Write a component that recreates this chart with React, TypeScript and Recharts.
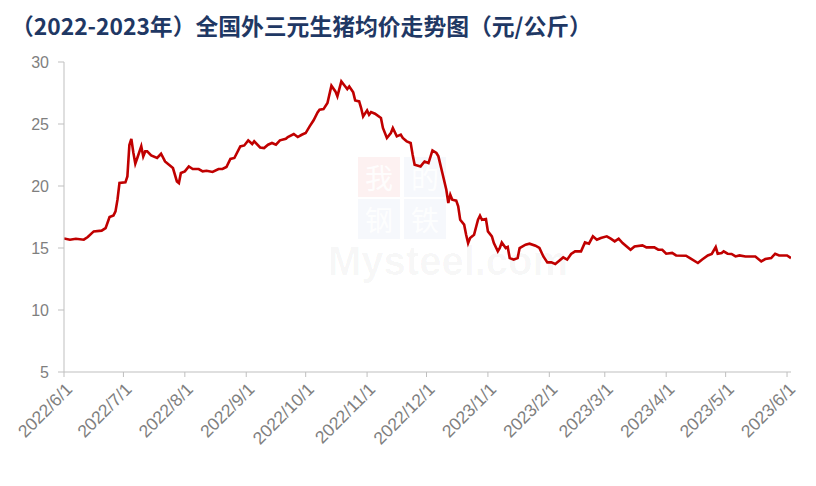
import React from "react";
import { LineChart, Line, XAxis, YAxis } from "recharts";

// days since 2022/6/1
const days = [
  0, 3, 6, 10, 12, 15, 19, 21, 23, 25, 26, 27, 28, 31, 32, 33, 34, 35, 36, 37, 39, 40, 41, 42, 44, 47, 49, 51, 53, 55, 57, 58, 59, 61,
  63, 65, 68, 70, 72, 75, 78, 80, 82, 84, 86, 89, 91, 93, 95, 96, 99, 101, 103, 105, 107, 109, 112, 113, 116, 118, 120, 122, 124, 126,
  128, 129, 131, 133, 135, 137, 138, 140, 142, 143, 144, 146, 147, 149, 150, 151, 153, 154, 155, 157, 160, 161, 163, 165, 166, 168,
  170, 171, 173, 175, 176, 177, 180, 182, 184, 186, 188, 189, 191, 193, 194, 195, 196, 198, 199, 200, 202, 203, 204, 205, 207, 209,
  210, 211, 213, 214, 216, 217, 219, 220, 221, 223, 224, 225, 227, 229, 230, 233, 235, 238, 240, 242, 244, 246, 248, 250, 252, 254,
  256, 258, 261, 263, 265, 267, 269, 271, 274, 276, 278, 280, 282, 286, 288, 292, 294, 298, 300, 302, 304, 307, 309, 314, 316, 320,
  322, 325, 327, 329, 330, 332, 333, 335, 337, 339, 341, 344, 349, 352, 354, 357, 359, 361, 365, 367,
];

const prices = [
  15.77, 15.67, 15.75, 15.67, 15.89, 16.34, 16.4, 16.6, 17.5, 17.63, 17.95, 18.9, 20.24, 20.29, 20.77, 23.3, 23.79, 22.7, 21.8, 22.26,
  23.2, 22.39, 22.79, 22.79, 22.47, 22.26, 22.6, 21.98, 21.72, 21.45, 20.37, 20.24, 21.05, 21.18,
  21.58, 21.37, 21.37, 21.18, 21.23, 21.13, 21.37, 21.37, 21.53, 22.18, 22.26, 23.19, 23.27, 23.68, 23.39, 23.6, 23.11, 23.06, 23.33,
  23.47, 23.33, 23.68, 23.81, 23.95, 24.19, 23.95, 24.13, 24.27, 24.81, 25.3,
  25.94, 26.15, 26.2, 26.69, 28.09, 27.63, 27.23, 28.44, 28.03, 27.82, 28.03, 27.55, 26.9, 26.82, 26.29, 25.61, 26.1, 25.75, 25.96,
  25.83, 25.48, 24.68, 23.87, 24.27, 24.68, 24.0,
  24.14, 23.87, 23.6, 23.47, 22.52, 21.72, 21.58, 21.98, 21.85, 22.87, 22.66, 22.39, 21.05, 19.7, 18.63, 19.3, 18.9, 18.82, 18.36,
  17.28, 16.88, 16.07, 15.4, 15.81, 16.07, 17.28,
  17.6, 17.28, 17.34, 16.34, 15.94, 15.4, 14.73, 15.0, 15.45, 15.0, 15.08, 14.19, 14.06, 14.19, 15.0, 15.27, 15.35, 15.19, 15.0, 14.32,
  13.84, 13.84, 13.71, 13.98, 14.24, 14.06,
  14.52, 14.73, 14.73, 15.45, 15.35, 15.94, 15.67, 15.81, 15.94, 15.75, 15.53, 15.75, 15.4, 14.86, 15.13, 15.21, 15.05, 15.05, 14.86,
  14.86, 14.54, 14.6, 14.4, 14.38, 14.19, 13.79,
  14.06, 14.4, 14.52, 15.08, 14.54, 14.6, 14.73, 14.54, 14.52, 14.32, 14.4, 14.32, 14.32, 13.92, 14.11, 14.19, 14.54, 14.4, 14.4, 14.19,
];

const tickDays = [0, 30, 61, 92, 122, 153, 183, 214, 245, 273, 304, 334, 365];
const tickLabels = [
  "2022/6/1", "2022/7/1", "2022/8/1", "2022/9/1", "2022/10/1", "2022/11/1", "2022/12/1",
  "2023/1/1", "2023/2/1", "2023/3/1", "2023/4/1", "2023/5/1", "2023/6/1",
];
const yTicks = [5, 10, 15, 20, 25, 30];

const title = "（2022-2023年）全国外三元生猪均价走势图（元/公斤）";
const watermarkChars = ["我", "的", "钢", "铁"];

const data = days.map((d, i) => ({ d, v: prices[i] }));

const XTick = (props: any) => {
  const { x, y, payload } = props;
  const idx = tickDays.indexOf(payload.value);
  const label = idx >= 0 ? tickLabels[idx] : "";
  const ax = x + 2;
  const ay = y;
  return (
    <text
      x={ax}
      y={ay}
      transform={`rotate(-45 ${ax} ${ay})`}
      textAnchor="end"
      dy="0.6em"
      fill="#7F7F7F"
      fontSize={17.5}
      fontFamily="'Liberation Sans', Arial, sans-serif"
    >
      {label}
    </text>
  );
};

const boxStyle = (left: number, top: number, bg: string): React.CSSProperties => ({
  position: "absolute",
  left,
  top,
  width: 42,
  height: 40,
  background: bg,
  color: "rgba(255,255,255,0.9)",
  fontFamily: "'Noto Sans CJK SC', sans-serif",
  fontSize: 28,
  lineHeight: "40px",
  textAlign: "center",
  overflow: "hidden",
});

export default function App() {
  return (
    <div style={{ position: "absolute", left: 0, top: 0, width: 816, height: 486, background: "#fff" }}>
      <div
        style={{
          position: "absolute",
          left: 11,
          top: 11,
          fontFamily: "'Noto Sans CJK SC', sans-serif",
          fontWeight: 700,
          fontSize: 22.8,
          color: "#1F3864",
          lineHeight: "30px",
          whiteSpace: "nowrap",
        }}
      >
        {title}
      </div>
      {/* watermark */}
      <div style={boxStyle(358, 157, "rgba(230,80,80,0.08)")}>{watermarkChars[0]}</div>
      <div style={boxStyle(404, 157, "rgba(80,110,200,0.05)")}>{watermarkChars[1]}</div>
      <div style={boxStyle(358, 199, "rgba(80,110,200,0.05)")}>{watermarkChars[2]}</div>
      <div style={boxStyle(404, 199, "rgba(80,110,200,0.05)")}>{watermarkChars[3]}</div>
      <div
        style={{
          position: "absolute",
          left: 328,
          top: 241,
          fontFamily: "'Liberation Sans', Arial, sans-serif",
          fontWeight: 700,
          fontSize: 40,
          color: "rgba(0,0,0,0.035)",
          whiteSpace: "nowrap",
          lineHeight: "40px",
        }}
      >
        Mysteel.com
      </div>
      <div style={{ position: "absolute", left: 0, top: 0 }}>
        <LineChart width={816} height={486} data={data} margin={{ top: 62, right: 25, bottom: 14, left: 0 }}>
          <XAxis
            dataKey="d"
            type="number"
            domain={[0, 367]}
            ticks={tickDays}
            interval={0}
            allowDataOverflow
            stroke="#BFBFBF"
            tickLine={{ stroke: "#BFBFBF" }}
            tickSize={5}
            tickMargin={6}
            height={100}
            tick={<XTick />}
          />
          <YAxis
            type="number"
            domain={[5, 30]}
            ticks={yTicks}
            interval={0}
            width={64}
            stroke="#BFBFBF"
            tickLine={{ stroke: "#BFBFBF" }}
            tickSize={6}
            tickMargin={9}
            tick={{ fill: "#7F7F7F", fontSize: 16, fontFamily: "'Liberation Sans', Arial, sans-serif" }}
          />
          <Line
            type="linear"
            dataKey="v"
            stroke="#C00000"
            strokeWidth={2.6}
            dot={false}
            isAnimationActive={false}
          />
        </LineChart>
      </div>
    </div>
  );
}
